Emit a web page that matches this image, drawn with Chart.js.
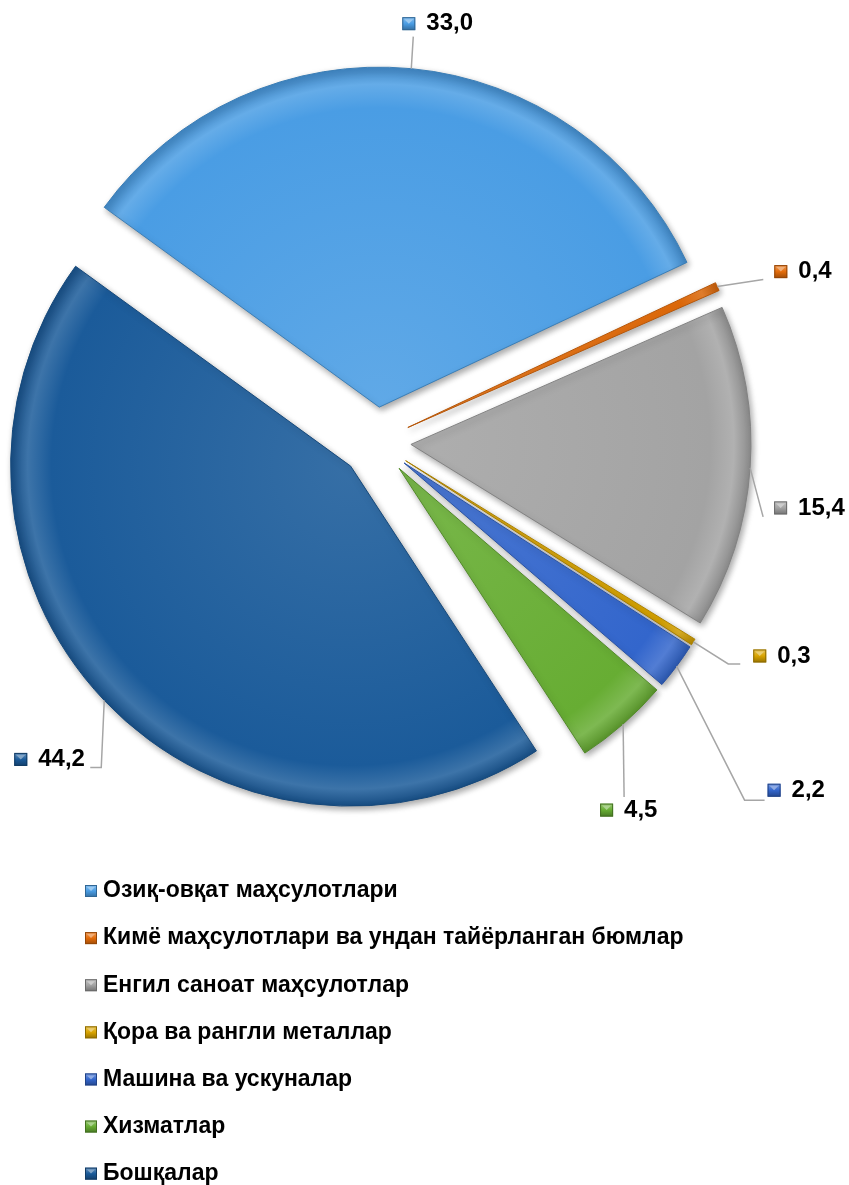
<!DOCTYPE html>
<html>
<head>
<meta charset="utf-8">
<script src="https://cdn.jsdelivr.net/npm/chart.js@4.4.1/dist/chart.umd.min.js"></script>
<style>
  html, body { margin: 0; padding: 0; background: #fff; }
  #wrap { width: 849px; height: 1185px; position: relative; }
</style>
</head>
<body>
<div id="wrap"><canvas id="chart"></canvas></div>
<script>
/* ---------- data ---------- */
const categories = [
    "Озиқ-овқат маҳсулотлари",
    "Кимё маҳсулотлари ва ундан тайёрланган бюмлар",
    "Енгил саноат маҳсулотлар",
    "Қора ва рангли металлар",
    "Машина ва ускуналар",
    "Хизматлар",
    "Бошқалар"
];
const shares = [33.0, 0.4, 15.4, 0.3, 2.2, 4.5, 44.2];
const sliceColors = ["#4a9de4", "#e46c0a", "#a3a3a3", "#d9a400", "#3366cc", "#67ad33", "#1b5b9a"];

/* ---------- layout ---------- */
const RADIUS = 340;
const EXPLODE = 35;                // every slice pulled out by this many px
const LABEL_FONT = "bold 24px 'Liberation Sans', Arial, sans-serif";
const LEGEND_FONT = "bold 23px 'Liberation Sans', Arial, sans-serif";
const LEGEND_X = 85;
const LEGEND_TOP = 891;
const LEGEND_STEP = 47.1;

// leader line: elbow relative to slice edge, horizontal tail, label marker position relative to line end
const labelLayout = [
    { elbow: [2, -32],  tail: 0,   mx: -11, my: -13 },
    { elbow: [46, -7],  tail: 0,   mx: 11,  my: -8 },
    { elbow: [13, 49],  tail: 0,   mx: 11,  my: -9 },
    { elbow: [35, 22],  tail: 12,  mx: 13,  my: -8 },
    { elbow: [68, 134], tail: 20,  mx: 3,   my: -10 },
    { elbow: [1, 73],   tail: 0,   mx: -24, my: 13 },
    { elbow: [-3, 67],  tail: -11, mx: -76, my: -8 }
];

/* ---------- helpers ---------- */
function shade(hex, amt) {
    const n = parseInt(hex.slice(1), 16);
    const r = (n >> 16) & 255, g = (n >> 8) & 255, b = n & 255;
    const f = (c) => amt >= 0 ? Math.round(c + (255 - c) * amt) : Math.round(c * (1 + amt));
    return `rgb(${f(r)},${f(g)},${f(b)})`;
}

function drawMarker(ctx, x, y, size, color) {
    const g = ctx.createLinearGradient(x, y, x, y + size);
    g.addColorStop(0, shade(color, 0.35));
    g.addColorStop(0.5, color);
    g.addColorStop(1, shade(color, -0.3));
    ctx.fillStyle = g;
    ctx.fillRect(x, y, size, size);
    ctx.fillStyle = shade(color, 0.45);
    ctx.beginPath();
    ctx.moveTo(x + 2, y + 2);
    ctx.lineTo(x + size - 2, y + 2);
    ctx.lineTo(x + size / 2, y + size / 2);
    ctx.closePath();
    ctx.fill();
    ctx.strokeStyle = shade(color, -0.35);
    ctx.lineWidth = 1;
    ctx.strokeRect(x + 0.5, y + 0.5, size - 1, size - 1);
}

function sliceFill(context) {
    const chart = context.chart;
    const area = chart.chartArea;
    const base = sliceColors[context.dataIndex];
    if (!area) return base;
    const cx = (area.left + area.right) / 2;
    const cy = (area.top + area.bottom) / 2;
    const g = chart.ctx.createRadialGradient(cx, cy, 0, cx, cy, RADIUS);
    g.addColorStop(0, shade(base, 0.12));
    g.addColorStop(0.88, base);
    g.addColorStop(0.95, shade(base, 0.15));
    g.addColorStop(1, shade(base, -0.15));
    return g;
}

/* ---------- plugins ---------- */
// draws the arcs pulled out along their middle angle (built-in offset drops tiny slices)
const explodedArcs = {
    id: "explodedArcs",
    beforeDatasetsDraw(chart) {
        const ctx = chart.ctx;
        ctx.save();
        ctx.shadowColor = "rgba(0,0,0,0.35)";
        ctx.shadowBlur = 6;
        ctx.shadowOffsetX = 2;
        ctx.shadowOffsetY = 3;
        chart.getDatasetMeta(0).data.forEach(arc => {
            const mid = (arc.startAngle + arc.endAngle) / 2;
            ctx.save();
            ctx.translate(Math.cos(mid) * EXPLODE, Math.sin(mid) * EXPLODE);
            arc.draw(ctx, chart.chartArea);
            ctx.restore();
        });
        ctx.restore();
        return false;
    }
};

const sliceLabels = {
    id: "sliceLabels",
    afterDraw(chart) {
        const ctx = chart.ctx;
        ctx.save();
        ctx.font = LABEL_FONT;
        ctx.textBaseline = "middle";
        ctx.textAlign = "left";
        chart.getDatasetMeta(0).data.forEach((arc, i) => {
            const mid = (arc.startAngle + arc.endAngle) / 2;
            const ex = arc.x + Math.cos(mid) * (arc.outerRadius + EXPLODE);
            const ey = arc.y + Math.sin(mid) * (arc.outerRadius + EXPLODE);
            const L = labelLayout[i];
            const bx = ex + L.elbow[0], by = ey + L.elbow[1];
            const tx = bx + L.tail;
            ctx.strokeStyle = "#a6a6a6";
            ctx.lineWidth = 1.5;
            ctx.beginPath();
            ctx.moveTo(ex, ey);
            ctx.lineTo(bx, by);
            ctx.lineTo(tx, by);
            ctx.stroke();
            const mx = tx + L.mx, cy = by + L.my;
            drawMarker(ctx, mx, cy - 6.5, 13, sliceColors[i]);
            ctx.fillStyle = "#000";
            ctx.fillText(shares[i].toFixed(1).replace(".", ","), mx + 24, cy);
        });
        ctx.restore();
    }
};

const listLegend = {
    id: "listLegend",
    afterDraw(chart) {
        const ctx = chart.ctx;
        ctx.save();
        ctx.font = LEGEND_FONT;
        ctx.textBaseline = "middle";
        categories.forEach((name, i) => {
            const y = LEGEND_TOP + LEGEND_STEP * i;
            drawMarker(ctx, LEGEND_X, y - 6, 12, sliceColors[i]);
            ctx.fillStyle = "#000";
            ctx.fillText(name, LEGEND_X + 18, y);
        });
        ctx.restore();
    }
};

/* ---------- chart ---------- */
new Chart(document.getElementById("chart"), {
    type: "pie",
    data: {
        labels: categories,
        datasets: [{
            data: shares,
            backgroundColor: sliceFill,
            borderColor: sliceColors.map(c => shade(c, -0.2)),
            borderWidth: 1,
            hoverOffset: 0
        }]
    },
    options: {
        responsive: true,
        maintainAspectRatio: false,
        devicePixelRatio: 1,
        animation: false,
        rotation: -54,
        radius: RADIUS,
        layout: { padding: { left: 0, right: 97, top: 0, bottom: 301 } },
        plugins: {
            legend: { display: false },
            tooltip: { enabled: false }
        }
    },
    plugins: [explodedArcs, sliceLabels, listLegend]
});
</script>
</body>
</html>
